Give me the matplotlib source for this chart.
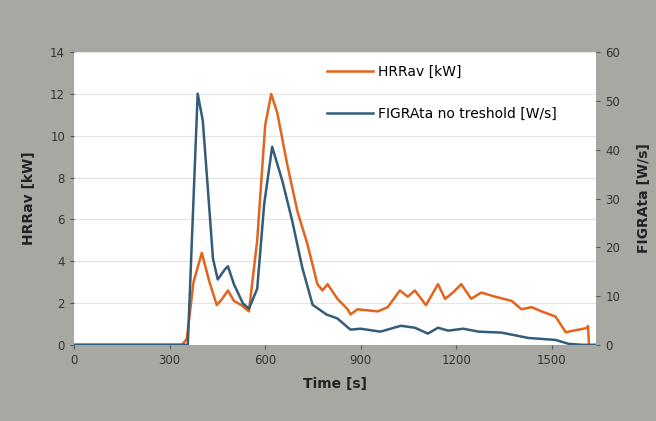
import matplotlib.pyplot as plt

# HRRav [kW] (time in s)
hrr_t = [0, 340, 354, 375, 401, 425, 448, 465, 483, 502, 525, 549, 575, 600, 619,
         638, 669, 701, 733, 764, 780, 796, 827, 859, 868, 890, 920, 954, 985, 1023,
         1048, 1070, 1105, 1143, 1165, 1190, 1216, 1247, 1279, 1323, 1374, 1405, 1437,
         1468, 1512, 1544, 1576, 1610, 1614, 1617]
hrr_v = [0, 0, 0.3, 3.0, 4.4, 3.0, 1.9, 2.2, 2.6, 2.1, 1.9, 1.6, 5.0, 10.5, 12.0,
         11.1, 8.65, 6.4, 4.8, 2.9, 2.6, 2.9, 2.2, 1.7, 1.45, 1.7, 1.65, 1.6, 1.8, 2.6,
         2.3, 2.6, 1.9, 2.9, 2.2, 2.5, 2.9, 2.2, 2.5, 2.3, 2.1, 1.7, 1.8,
         1.6, 1.35, 0.6, 0.7, 0.8, 0.9, 0]

# FIGRAta no treshold [W/s]
fig_t = [0, 340, 357, 372, 388, 404, 420, 436, 451, 474, 483, 502, 530, 549, 575,
         597, 622, 654, 685, 717, 749, 793, 827, 868, 899, 962, 1026, 1070, 1111,
         1143, 1175, 1222, 1270, 1342, 1427, 1512, 1553, 1594, 1640]
fig_v = [0, 0, 0, 25, 51.5, 46, 32, 17.7, 13.4, 15.5, 16.1, 12.4, 8.5, 7.4, 11.5,
         28.9, 40.6, 33.6, 25.4, 15.7, 8.2, 6.2, 5.4, 3.1, 3.3, 2.7, 3.9, 3.5, 2.3,
         3.5, 2.9, 3.3, 2.7, 2.5, 1.4, 1.0, 0.2, 0, 0]

bg = "#a8a8a3"
fig = plt.figure(figsize=(6.56, 4.21), dpi=100, facecolor=bg)
ax = fig.add_axes([0.113, 0.181, 0.796, 0.695])
ax2 = ax.twinx()

ax.set_facecolor("white")
ax.set_zorder(ax2.get_zorder() + 1)
ax.patch.set_visible(True)
ax2.patch.set_visible(False)

l1, = ax.plot(hrr_t, hrr_v, color="#e3641c", lw=1.8, label="HRRav [kW]")
l2, = ax.plot(fig_t, [v * 14 / 60 for v in fig_v], color="#325c7a",
              lw=1.8, label="FIGRAta no treshold [W/s]")

ax.set_xlim(0, 1640)
ax.set_ylim(0, 14)
ax2.set_ylim(0, 60)
ax.set_xticks([0, 300, 600, 900, 1200, 1500])
ax.set_yticks(range(0, 15, 2))
ax2.set_yticks(range(0, 61, 10))
ax.grid(axis="y", color="#e4e4e4", lw=0.8)

for a in (ax, ax2):
    for s in a.spines.values():
        s.set_visible(False)
    a.tick_params(colors="#555555", labelcolor="#333333", labelsize=8.5, length=3)

ax.set_xlabel("Time [s]", fontsize=10, fontweight="bold", color="#222222", labelpad=7)
ax.set_ylabel("HRRav [kW]", fontsize=10, fontweight="bold", color="#222222", labelpad=10)
ax2.set_ylabel("FIGRAta [W/s]", fontsize=10, fontweight="bold", color="#222222", labelpad=12)

ax.legend(handles=[l1, l2], loc="upper left", bbox_to_anchor=(0.46, 1.0), frameon=False,
          fontsize=10, labelspacing=2.0, handlelength=3.3, handletextpad=0.4)

fig.savefig("out.png", dpi=100, facecolor=bg)
